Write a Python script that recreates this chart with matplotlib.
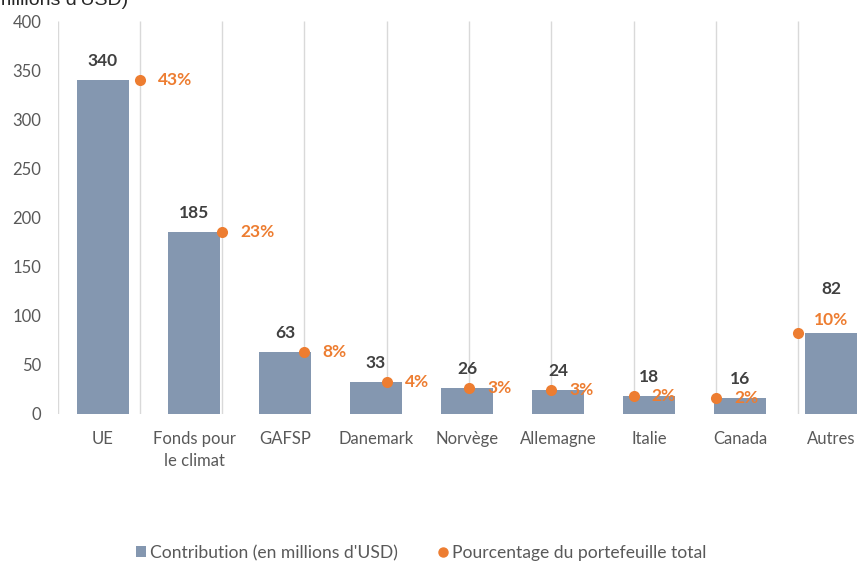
import matplotlib
matplotlib.use("Agg")
import matplotlib.pyplot as plt
from matplotlib.transforms import blended_transform_factory
from matplotlib.lines import Line2D
from matplotlib.patches import Patch

plt.rcParams['font.family'] = ['Lato', 'DejaVu Sans']

categories = ["UE", "Fonds pour\nle climat", "GAFSP", "Danemark", "Norvège",
              "Allemagne", "Italie", "Canada", "Autres"]
contrib = [340, 185, 63, 33, 26, 24, 18, 16, 82]
pct_labels = ["43%", "23%", "8%", "4%", "3%", "3%", "2%", "2%", "10%"]
yticks = [0, 50, 100, 150, 200, 250, 300, 350, 400]

BAR = "#8497B0"
ORANGE = "#ED7D31"
TXT = "#595959"
DARK = "#404040"

W, H = 859, 562
fig = plt.figure(figsize=(W / 100, H / 100), dpi=100)

left_px, right_px, top_px, bot_px = 57.5, 859, 21, 414
ax = fig.add_axes([left_px / W, 1 - bot_px / H, (right_px - left_px) / W, (bot_px - top_px) / H])
ax.patch.set_visible(False)
axs = ax.twiny()
axs.patch.set_visible(False)

bar_step = 91.0
sc_step = 82.3
ax.set_xlim(-0.5, -0.5 + (right_px - left_px) / bar_step)
axs.set_xlim(0, (right_px - left_px) / sc_step)
ax.set_ylim(0, 400)
axs.set_ylim(0, 400)

# vertical gridlines from scatter axis, behind bars
tr = blended_transform_factory(axs.transData, ax.transAxes)
ax.vlines(range(0, 10), 0, 1, transform=tr, colors="#D9D9D9", linewidth=1.0, zorder=0)

xs = list(range(len(categories)))
ax.bar(xs, contrib, width=0.57, color=BAR, zorder=2)

sx = [i + 1 for i in xs]
axs.scatter(sx, contrib, s=64, color=ORANGE, zorder=5, clip_on=False, linewidths=0)

px = 0.72  # points per pixel
LBL = 12.5
for i, v in enumerate(contrib):
    if i == len(contrib) - 1:
        ax.annotate(str(v), (i, v), xytext=(0, 44 * px), textcoords="offset points",
                    ha="center", va="center", fontsize=LBL, fontweight="bold", color=DARK)
        ax.annotate(pct_labels[i], (i, v), xytext=(0, 13 * px), textcoords="offset points",
                    ha="center", va="center", fontsize=LBL, fontweight="bold", color=ORANGE)
    else:
        ax.annotate(str(v), (i, v), xytext=(0, 19 * px), textcoords="offset points",
                    ha="center", va="center", fontsize=LBL, fontweight="bold", color=DARK)
        axs.annotate(pct_labels[i], (sx[i], v), xytext=(18 * px, 0), textcoords="offset points",
                     ha="left", va="center", fontsize=LBL, fontweight="bold", color=ORANGE)

TK = 12
ax.set_xticks(xs)
ax.set_xticklabels(categories, fontsize=TK, color=TXT, linespacing=1.5)
ax.set_yticks(yticks)
ax.set_yticklabels([str(t) for t in yticks], fontsize=TK, color=TXT)
ax.tick_params(axis="both", length=0)
ax.tick_params(axis="x", pad=12)
ax.tick_params(axis="y", pad=11.5)
axs.set_xticks([])
for a in (ax, axs):
    for s in a.spines.values():
        s.set_visible(False)

fig.text(128 / W, 1 - 5 / H, "millions d'USD)", ha="right", va="baseline",
         fontsize=14, color="#262626", family=["Liberation Sans", "DejaVu Sans"])

handles = [Patch(facecolor=BAR, edgecolor="none"),
           Line2D([], [], marker="o", linestyle="none", color=ORANGE, markersize=6.5)]
fig.legend(handles, ["Contribution (en millions d'USD)", "Pourcentage du portefeuille total"],
           loc="center", bbox_to_anchor=(421 / W, 1 - 553 / H), ncol=2, frameon=False,
           fontsize=12.6, labelcolor=TXT, handlelength=0.6, handleheight=0.6,
           handletextpad=0.2, columnspacing=2.3)

fig.savefig("out.png", dpi=100)
